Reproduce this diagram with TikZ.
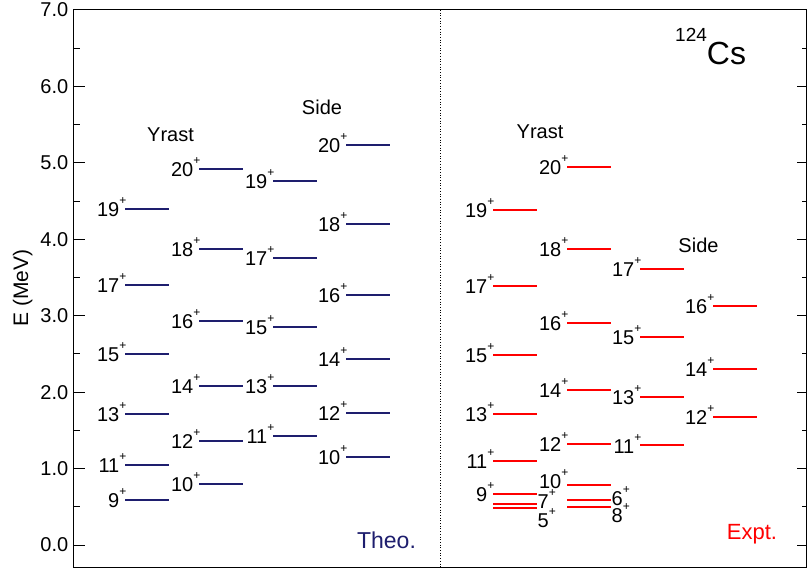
\documentclass[tikz,border=0pt]{standalone}
\usepackage{fontspec}
\setmainfont{Liberation Sans}
\definecolor{theo}{RGB}{30,30,110}
\newcommand\jp[1]{#1\smash{\raisebox{12pt}{\fontsize{12}{12}\selectfont +}}}
% #1 name, #2 x, #3 y, #4 label, #5 colour, #6 baseline offset
\newcommand\lvl[6]{%
  \coordinate (#1a) at (#2,#3);
  \coordinate (#1b) at (#2+44,#3);
  \draw[levline,#5] (#1a) -- (#1b);
  \node[lvlab] (#1l) at (#2+1.5,#3+#6) {\jp{#4}};}
\newcommand\tlev[5][7.7]{\lvl{#2}{#3}{#4}{#5}{theo}{#1}}
\newcommand\elev[5][7.7]{\lvl{#2}{#3}{#4}{#5}{red}{#1}}
% level with label on its right: name, x, y, label, baseline y
\newcommand\elevr[5]{%
  \coordinate (#1a) at (#2,#3);
  \coordinate (#1b) at (#2+44,#3);
  \draw[levline,red] (#1a) -- (#1b);
  \node[lvlab,anchor=base west] (#1l) at (#2+44.5,#5) {\jp{#4}};}
\begin{document}
\begin{tikzpicture}[x=1pt,y=-1pt,
  levline/.style={line width=2pt},
  lvlab/.style={anchor=base east,inner sep=0pt,font=\fontsize{20}{20}\selectfont},
  txt/.style={anchor=base,inner sep=0pt,font=\fontsize{20}{20}\selectfont},
  axnum/.style={anchor=east,inner sep=0pt,font=\fontsize{20}{20}\selectfont}]
\useasboundingbox (0,0) rectangle (809,572);
\fill[white] (0,0) rectangle (809,572);
% frame and ticks
\draw[line width=1pt] (73,10) rectangle (806,567);
\foreach \e/\t in {0/0.0,1/1.0,2/2.0,3/3.0,4/4.0,5/5.0,6/6.0,7/7.0}{
  \draw[line width=1pt] (73,545-76.43*\e) -- ++(12,0);
  \draw[line width=1pt] (806,545-76.43*\e) -- ++(-9,0);
  \node[axnum] (ax\e) at (68.5,545-76.43*\e) {\t};
}
\foreach \e in {0.5,1.5,2.5,3.5,4.5,5.5,6.5}{
  \draw[line width=1pt] (73,545-76.43*\e) -- ++(7,0);
  \draw[line width=1pt] (806,545-76.43*\e) -- ++(-4,0);
}
\node[rotate=90,anchor=base,inner sep=0pt,font=\fontsize{21}{21}\selectfont] (ylab) at (28,288) {E (MeV)};
% divider
\draw[dotted,line width=0.7pt] (440.7,10) -- (440.7,567);
% ---------- Theory ----------
\tlev{ta9}{125}{500}{9}
\tlev{ta11}{125}{465}{11}
\tlev{ta13}{125}{414}{13}
\tlev{ta15}{125}{354}{15}
\tlev{ta17}{125}{285}{17}
\tlev{ta19}{125}{209}{19}
\tlev{tb10}{199}{484}{10}
\tlev{tb12}{199}{441}{12}
\tlev{tb14}{199}{386}{14}
\tlev{tb16}{199}{321}{16}
\tlev{tb18}{199}{249}{18}
\tlev{tb20}{199}{169}{20}
\tlev{tc11}{273}{436}{11}
\tlev{tc13}{273}{386}{13}
\tlev{tc15}{273}{327}{15}
\tlev{tc17}{273}{258}{17}
\tlev{tc19}{273}{181}{19}
\tlev{td10}{346}{457}{10}
\tlev{td12}{346}{413}{12}
\tlev{td14}{346}{359}{14}
\tlev{td16}{346}{295}{16}
\tlev{td18}{346}{224}{18}
\tlev{td20}{346}{145}{20}
\node[txt] (tyr) at (170.5,141.7) {Yrast};
\node[txt] (tsd) at (322,115) {Side};
\node[txt,text=theo,font=\fontsize{23}{23}\selectfont] (theo) at (386.5,548) {Theo.};
% ---------- Experiment ----------
\elevr{ea5}{493}{508}{5}{527}
\elevr{ea7}{493}{504}{7}{508}
\elev{ea9}{493}{494}{9}
\elev{ea11}{493}{461}{11}
\elev{ea13}{493}{414}{13}
\elev{ea15}{493}{355}{15}
\elev{ea17}{493}{286}{17}
\elev{ea19}{493}{210}{19}
\elevr{eb8}{567}{507}{8}{522}
\elevr{eb6}{567}{500}{6}{505.7}
\elev[3.3]{eb10}{567}{485}{10}
\elev{eb12}{567}{444}{12}
\elev{eb14}{567}{390}{14}
\elev{eb16}{567}{323}{16}
\elev{eb18}{567}{249}{18}
\elev{eb20}{567}{167}{20}
\elev[8.5]{ec11}{640}{445}{11}
\elev{ec13}{640}{397}{13}
\elev{ec15}{640}{337}{15}
\elev{ec17}{640}{269}{17}
\elev{ed12}{713}{417}{12}
\elev{ed14}{713}{369}{14}
\elev{ed16}{713}{306}{16}
\node[txt] (eyr) at (540,139) {Yrast};
\node[txt] (esd) at (698.5,252.7) {Side};
\node[txt,text=red,font=\fontsize{22}{22}\selectfont] (expt) at (752,539) {Expt.};
\node[anchor=base west,inner sep=0pt,font=\fontsize{32}{32}\selectfont] (nuc) at (675,65)
  {\raisebox{23.3pt}{\fontsize{19}{19}\selectfont 124}Cs};
\end{tikzpicture}
\end{document}
